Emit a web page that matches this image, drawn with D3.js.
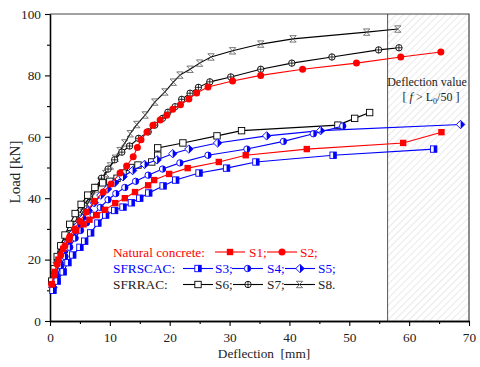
<!DOCTYPE html>
<html>
<head>
<meta charset="utf-8">
<script src="https://cdn.jsdelivr.net/npm/d3@7"></script>
<style>
  body { margin: 0; background: #fff; }
  svg text { font-family: "Liberation Serif", "DejaVu Serif", serif !important; }
</style>
</head>
<body>
<div id="chart"></div>
<script>
// data: [deflection mm, load kN]
var s1 = [[0.3,12],[0.8,16],[1.4,20],[2.2,23.5],[3.2,26.5],[4.4,29.5],[5.6,31.5],[6.6,33],[7.8,34.5],[9.2,36.2],[10.9,38.4],[12.5,40],[14.2,42],[16.4,44.2],[17.4,45.9],[19.9,47.9],[23,49.8],[28.2,51.8],[32.7,54],[42.9,56],[59,58],[65.4,61.5]];
var s2 = [[0.3,12],[0.7,15],[1.2,18.5],[1.8,21.5],[2.5,24.5],[3.3,27.5],[4.1,30],[5,32.5],[6.1,35.5],[7.4,39],[8.9,42],[10.2,44.6],[11.7,48.2],[12.8,50.5],[13.9,53.5],[14.6,56.5],[15.2,59],[16.2,61.6],[17.2,63.8],[18.4,65.5],[19.5,67],[20.5,69],[21.8,70.4],[23.2,72.3],[24.5,74.3],[26.4,76.2],[30.5,78.2],[35.2,80],[42.2,82],[51.2,84],[58.6,86],[65.3,87.6]];
var s3 = [[0.5,10],[1.2,13],[2.2,16],[3,19],[3.8,21.5],[5,24],[5.8,26],[6.8,28.7],[8,31.9],[9.3,34.5],[10.8,36],[12.2,37.1],[13.6,38.5],[15,40],[16.5,41.7],[18.9,44],[21,45.9],[24.9,48.2],[29.5,49.8],[34.4,51.8],[47.3,54],[64.1,56]];
var s4 = [[0.5,10.5],[1.1,14],[1.8,18],[2.5,21],[3.3,24],[4.2,27],[5.1,29.5],[6.1,32],[7.2,34.5],[8.4,37],[9.7,39.5],[11,41.5],[12.5,43.5],[14.3,45.5],[16.4,47.5],[18.8,49.5],[21.7,51.5],[26.4,54],[32.9,56],[39,58.5],[44,61],[48.9,63.5]];
var s5 = [[0.5,11],[1,15],[1.6,19],[2.3,22.5],[3,25.5],[3.8,28.5],[4.6,31],[5.5,33.5],[6.4,36],[7.4,38.5],[8.5,41],[9.6,43],[10.8,45],[12.2,47],[13.8,49],[15.8,51],[17.9,52.5],[20.5,54.5],[23.2,56],[28,58],[36.2,60.3],[45.2,62],[68.6,64]];
var s6 = [[0.3,13],[0.7,17],[1.2,21],[1.8,24.5],[2.5,28],[3.3,31.5],[4.2,35],[5.2,38],[6.3,41],[7.5,43.5],[8.8,45],[10,45.5],[11.2,46.5],[12.2,48.2],[13.5,50],[14.7,50.8],[17,51.8],[18,54],[18,56.4],[22.2,58],[27.9,60.3],[32,62],[48.1,63.8],[50.9,66],[53.4,67.9]];
var s7 = [[0.3,13],[0.7,16],[1.2,19.5],[1.8,22.5],[2.5,25.5],[3.2,28.5],[4,31.5],[4.8,34.5],[5.7,37.5],[6.6,40.5],[7.6,43.5],[8.6,46.5],[9.7,49.5],[10.8,52.5],[12,55],[13.3,57],[14.8,59.5],[16.4,61.6],[17.5,63.8],[18.8,66],[19.7,68],[20.9,69.8],[22,72.2],[23.4,74.2],[24.8,76.1],[26.7,77.9],[30.2,79.5],[35.2,82],[40.4,84],[47.1,86],[54.9,88.3],[58.3,89]];
var s8 = [[0.3,12],[0.6,15],[1,18],[1.5,20.5],[2.1,23],[2.8,25.5],[3.4,28],[4.1,30.5],[4.8,33],[5.5,35.5],[6.2,38],[7,40.5],[7.7,43],[8.5,45.5],[9.3,48],[10.1,50.5],[10.9,53],[11.7,55.5],[12.5,58],[13.4,61],[14.5,64],[15.9,67.1],[17.5,71.3],[19.2,74.6],[20.6,77.8],[21.7,80.1],[23.4,82],[25,84],[26.9,86],[30.5,88],[35.2,90.2],[40.6,91.9],[52.9,94.1],[58.1,95.1]];

var seriesNames = ["S1", "S2", "S3", "S4", "S5", "S6", "S7", "S8"];
var seriesData = [s1, s2, s3, s4, s5, s6, s7, s8];
var seriesColors = ["#ff0000", "#ff0000", "#0000ff", "#0000ff", "#0000ff", "#000000", "#000000", "#000000"];
var seriesMarkers = ["squareFill", "circleFill", "squareHalf", "circleHalf", "diamondHalf", "squareOpen", "circlePlus", "star"];

var groupLabels = ["Natural concrete:", "SFRSCAC:", "SFRRAC:"];
var groupColors = ["#ff0000", "#0000ff", "#222222"];

var xTicks = [0, 10, 20, 30, 40, 50, 60, 70];
var yTicks = [0, 20, 40, 60, 80, 100];
var limitDeflection = 56.4;

var serif = "'Liberation Serif', 'DejaVu Serif', serif";

var svgWidth = 480;
var svgHeight = 367;

var svg = d3.select("#chart")
  .append("svg")
  .attr("width", svgWidth)
  .attr("height", svgHeight)
  .attr("font-family", serif);

var x = d3.scaleLinear().domain([0, 70]).range([50, 469]);
var y = d3.scaleLinear().domain([0, 100]).range([321, 14]);

// hatch pattern for the deflection limit zone
var defs = svg.append("defs");
var pat = defs.append("pattern")
  .attr("id", "hatch")
  .attr("patternUnits", "userSpaceOnUse")
  .attr("width", 5)
  .attr("height", 5)
  .attr("patternTransform", "rotate(45)");
pat.append("line")
  .attr("x1", 0).attr("y1", 0).attr("x2", 0).attr("y2", 5)
  .attr("stroke", "#c8c8c8")
  .attr("stroke-width", 0.8);

svg.append("rect")
  .attr("x", x(limitDeflection))
  .attr("y", y(100))
  .attr("width", x(70) - x(limitDeflection))
  .attr("height", y(0) - y(100))
  .attr("fill", "url(#hatch)");

svg.append("line")
  .attr("x1", x(limitDeflection)).attr("x2", x(limitDeflection))
  .attr("y1", y(0)).attr("y2", y(100))
  .attr("stroke", "#555").attr("stroke-width", 1);

// frame top and right
svg.append("path")
  .attr("d", `M${x(0)},${y(100)}H${x(70)}V${y(0)}`)
  .attr("fill", "none")
  .attr("stroke", "#444")
  .attr("stroke-width", 1.2);

// axes
var bottomAxis = d3.axisBottom(x).tickValues(xTicks).tickSize(5).tickSizeOuter(0).tickFormat(d3.format("d"));
var bottomMinor = d3.axisBottom(x).tickValues(d3.range(5, 70, 10)).tickSize(3).tickSizeOuter(0).tickFormat("");
var leftAxis = d3.axisLeft(y).tickValues(yTicks).tickSize(5).tickSizeOuter(0).tickFormat(d3.format("d"));
var leftMinor = d3.axisLeft(y).tickValues(d3.range(10, 100, 20)).tickSize(3).tickSizeOuter(0).tickFormat("");

function styleAxis(g) {
  g.attr("font-family", serif).attr("font-size", 13.3);
  g.selectAll("path").attr("stroke", "#000").attr("stroke-width", 1.3);
  g.selectAll("line").attr("stroke", "#000").attr("stroke-width", 1.1);
  g.selectAll("text").attr("fill", "#222");
}

svg.append("g").attr("transform", `translate(0,${y(0)})`).call(bottomMinor).call(styleAxis);
svg.append("g").attr("transform", `translate(${x(0)},0)`).call(leftMinor).call(styleAxis);
svg.append("g").attr("transform", `translate(0,${y(0)})`).call(bottomAxis).call(styleAxis)
  .selectAll("text").attr("dy", "0.95em");
svg.append("g").attr("transform", `translate(${x(0)},0)`).call(leftAxis).call(styleAxis)
  .selectAll("text").attr("x", -9);

// axis titles
svg.append("text")
  .attr("x", 264).attr("y", 358)
  .attr("text-anchor", "middle")
  .attr("font-size", 13.3)
  .attr("fill", "#222")
  .style("white-space", "pre")
  .text("Deflection  [mm]");

svg.append("text")
  .attr("transform", `translate(20,172) rotate(-90)`)
  .attr("text-anchor", "middle")
  .attr("font-size", 15)
  .attr("fill", "#222")
  .text("Load [kN]");

// limit zone label
svg.append("text")
  .attr("x", 427).attr("y", 86)
  .attr("text-anchor", "middle")
  .attr("font-size", 12)
  .attr("fill", "#222")
  .text("Deflection value");

var lim = svg.append("text")
  .attr("x", 431).attr("y", 101)
  .attr("text-anchor", "middle")
  .attr("font-size", 12)
  .attr("fill", "#222")
  .style("white-space", "pre");
lim.append("tspan").text("[ ");
lim.append("tspan").attr("font-style", "italic").text("f");
lim.append("tspan").text(" > L");
lim.append("tspan").attr("dy", 3).attr("font-size", 8).text("0");
lim.append("tspan").attr("dy", -3).text("/50 ]");

// marker drawing
function drawMarker(g, type, color) {
  var s = 3.2;
  if (type === "squareFill") {
    g.append("rect").attr("x", -s).attr("y", -s).attr("width", 2 * s).attr("height", 2 * s)
      .attr("fill", color);
  } else if (type === "circleFill") {
    g.append("circle").attr("r", s + 0.3).attr("fill", color);
  } else if (type === "squareHalf") {
    g.append("rect").attr("x", -s).attr("y", -s).attr("width", 2 * s).attr("height", 2 * s)
      .attr("fill", "#fff").attr("stroke", color).attr("stroke-width", 0.9);
    g.append("rect").attr("x", 0).attr("y", -s).attr("width", s).attr("height", 2 * s)
      .attr("fill", color);
  } else if (type === "circleHalf") {
    g.append("circle").attr("r", s).attr("fill", "#fff").attr("stroke", color).attr("stroke-width", 0.9);
    g.append("path").attr("d", `M0,${-s}A${s},${s} 0 0 1 0,${s}Z`).attr("fill", color);
  } else if (type === "diamondHalf") {
    var d = s + 1;
    g.append("path").attr("d", `M0,${-d}L${d},0L0,${d}L${-d},0Z`)
      .attr("fill", "#fff").attr("stroke", color).attr("stroke-width", 0.9);
    g.append("path").attr("d", `M0,${-d}L${d},0L0,${d}Z`).attr("fill", color);
  } else if (type === "squareOpen") {
    g.append("rect").attr("x", -s).attr("y", -s).attr("width", 2 * s).attr("height", 2 * s)
      .attr("fill", "#fff").attr("stroke", color).attr("stroke-width", 0.9);
  } else if (type === "circlePlus") {
    g.append("circle").attr("r", s).attr("fill", "#fff").attr("stroke", color).attr("stroke-width", 0.9);
    g.append("path").attr("d", `M${-s},0H${s}M0,${-s}V${s}`).attr("stroke", color).attr("stroke-width", 0.8);
  } else if (type === "star") {
    var t = s;
    g.append("path").attr("d", `M${-t},${-t}L${t},${t}M${-t},${t}L${t},${-t}M${-t},${-t}H${t}M${-t},${t}H${t}`)
      .attr("stroke", "#555").attr("stroke-width", 0.8).attr("fill", "none");
  }
}

var line = d3.line().x(d => x(d[0])).y(d => y(d[1]));

// draw series, back to front
var order = [7, 6, 5, 4, 3, 2, 1, 0];
order.forEach(function(i) {
  var g = svg.append("g");
  g.append("path")
    .datum(seriesData[i])
    .attr("d", line)
    .attr("fill", "none")
    .attr("stroke", seriesColors[i])
    .attr("stroke-width", 1.1);
  g.selectAll("g.pt")
    .data(seriesData[i])
    .enter()
    .append("g")
    .attr("class", "pt")
    .attr("transform", d => `translate(${x(d[0])},${y(d[1])})`)
    .each(function() { drawMarker(d3.select(this), seriesMarkers[i], seriesColors[i]); });
});

// legend
var legendRows = [252, 268.5, 284.5];
var legendItems = [
  { s: 0, x1: 215, x2: 245, tx: 249, label: "S1;" },
  { s: 1, x1: 267, x2: 297, tx: 300, label: "S2;" },
  { s: 2, x1: 183, x2: 213, tx: 215, label: "S3;" },
  { s: 3, x1: 232, x2: 263, tx: 267, label: "S4;" },
  { s: 4, x1: 285, x2: 315, tx: 318, label: "S5;" },
  { s: 5, x1: 183, x2: 213, tx: 215, label: "S6;" },
  { s: 6, x1: 233, x2: 263, tx: 267, label: "S7;" },
  { s: 7, x1: 284, x2: 315, tx: 318, label: "S8." }
];
var rowOf = [0, 0, 1, 1, 1, 2, 2, 2];

groupLabels.forEach(function(lbl, r) {
  svg.append("text")
    .attr("x", 113).attr("y", legendRows[r] + 4.5)
    .attr("font-size", 13.3)
    .attr("fill", groupColors[r])
    .text(lbl);
});

legendItems.forEach(function(it) {
  var cy = legendRows[rowOf[it.s]];
  var c = seriesColors[it.s];
  svg.append("line")
    .attr("x1", it.x1).attr("x2", it.x2).attr("y1", cy).attr("y2", cy)
    .attr("stroke", c).attr("stroke-width", 1.1);
  var g = svg.append("g").attr("transform", `translate(${(it.x1 + it.x2) / 2},${cy})`);
  drawMarker(g, seriesMarkers[it.s], c);
  svg.append("text")
    .attr("x", it.tx).attr("y", cy + 4.5)
    .attr("font-size", 13.3)
    .attr("fill", groupColors[rowOf[it.s]])
    .text(it.label);
});
</script>
</body>
</html>
